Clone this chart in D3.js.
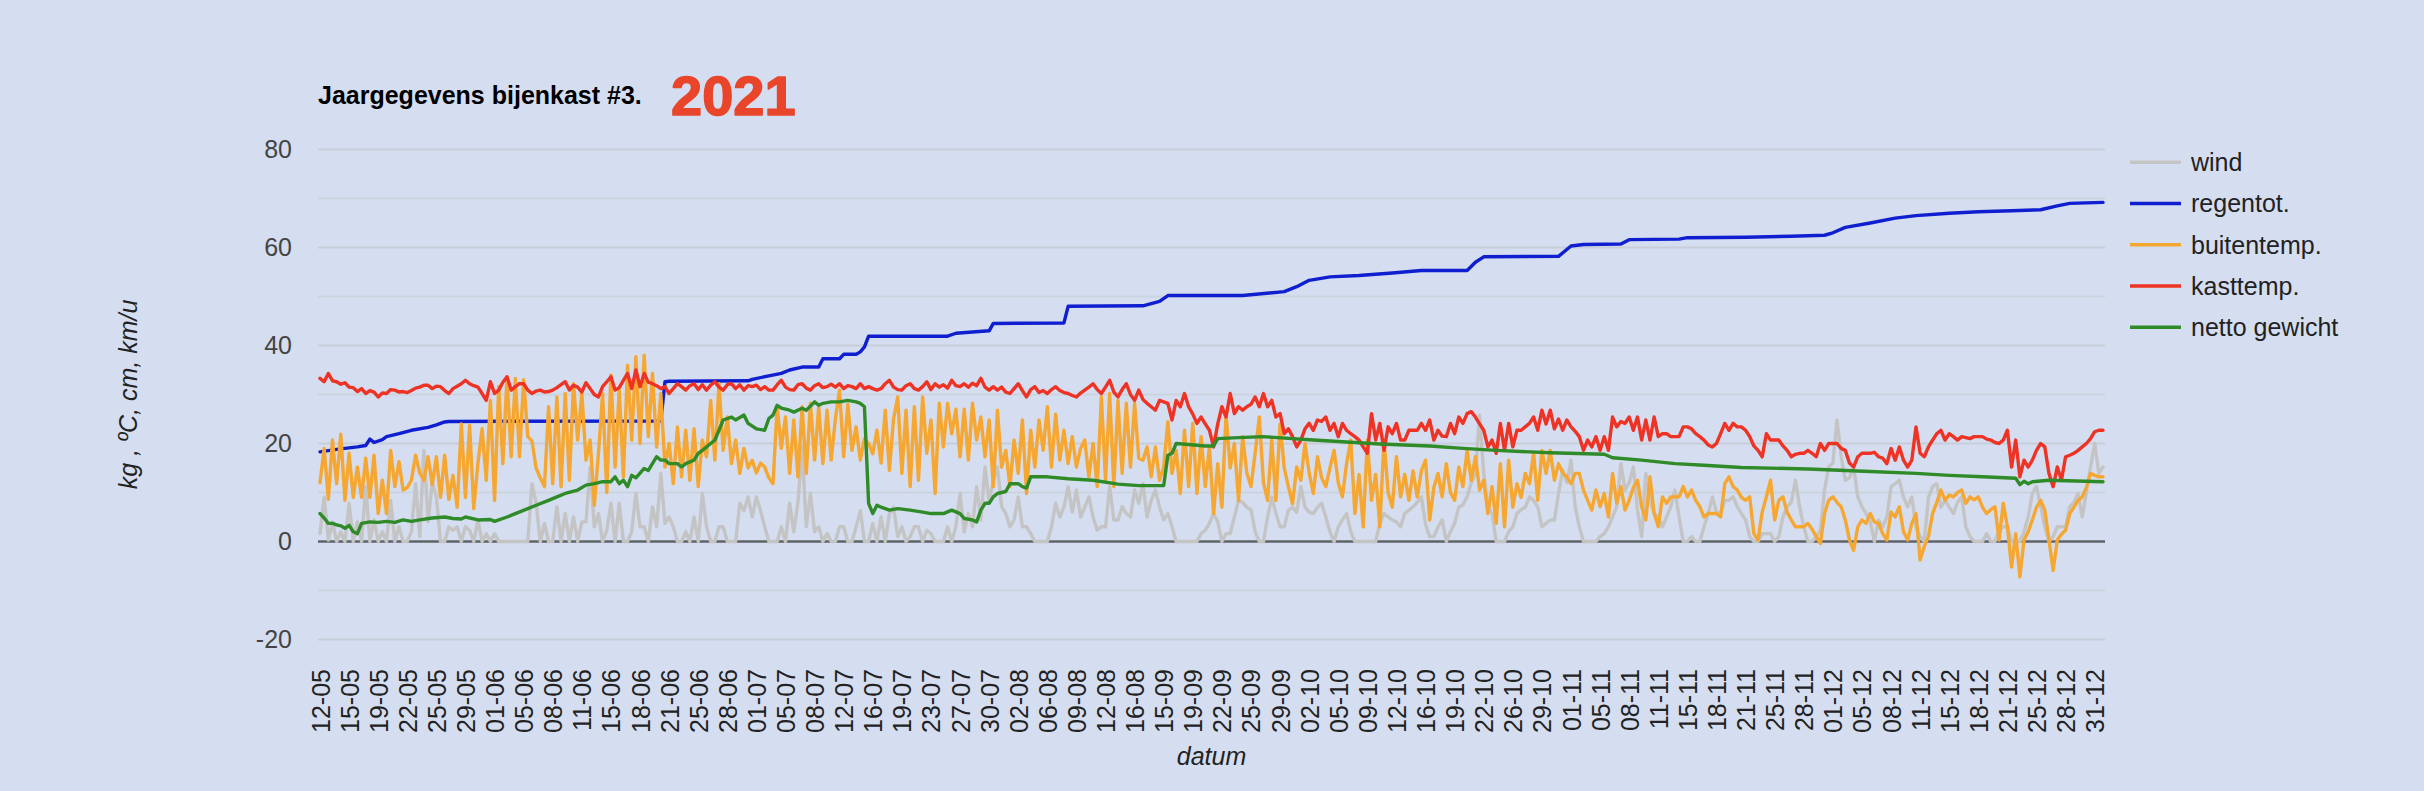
<!DOCTYPE html>
<html>
<head>
<meta charset="utf-8">
<script src="https://cdn.jsdelivr.net/npm/d3@7"></script>
<style>
  html, body { margin: 0; padding: 0; background: #d5def0; }
  svg { display: block; }
  text { font-family: "Liberation Sans", Arial, sans-serif; }
</style>
</head>
<body>
<svg id="chart" width="2424" height="791"></svg>
<script>
// ---------------- DATA ----------------
const seriesNames = ["wind", "regentot.", "buitentemp.", "kasttemp.", "netto gewicht"];
const seriesColors = ["#c4c4c4", "#0f1fcf", "#f5a731", "#ee3224", "#2f8a28"];

const tickLabels = ["12-05","15-05","19-05","22-05","25-05","29-05","01-06","05-06","08-06","11-06","15-06","18-06","21-06","25-06","28-06","01-07","05-07","08-07","12-07","16-07","19-07","23-07","27-07","30-07","02-08","06-08","09-08","12-08","16-08","15-09","19-09","22-09","25-09","29-09","02-10","05-10","09-10","12-10","16-10","19-10","22-10","26-10","29-10","01-11","05-11","08-11","11-11","15-11","18-11","21-11","25-11","28-11","01-12","05-12","08-12","11-12","15-12","18-12","21-12","25-12","28-12","31-12"];
const yTicks = [-20, 0, 20, 40, 60, 80];

const wind = [
1.6,9.1,0.3,4,0,2,0,7.8,0,4, 0,11.2,0,4.4,0,2,0,8.4,0,3, 0,0,2,11.8,1,18.6,4,12,9.1,0,
0,3,2.3,3,0,3,2.3,0,4.4,0, 1.6,0,1.6,0,0,0,0,0,0,0, 0,11.8,7.8,0,3.7,0,0,7.1,0,5.7,
0,5,0,4,4,15.2,3,5.7,0,2.3, 7.8,0,7.8,0,0,2,9.8,3,3,0, 7.1,3,13.9,3.7,5,3,0,0,2,0,
5,0,9.8,3,0,0,3,3,0,0, 0,7.8,6.3,9.1,5,9.1,6.3,3,0,0, 0,3,0,7.8,2,8,19.3,3,9.8,2,
3,0,1.6,0,0,3,3,0,0,3, 6.3,0,0,3.7,0,5,0,5.7,7,1, 3,0,1,3,3,0,2.3,1.6,0,0,
0,3,0,3,9.8,2,5.7,3,11.2,4.4, 15.2,8,12.5,15.2,7.1,5.7,3,4.4,9.1,3, 3,1.6,0,0,0,0,3,7.8,5,7,
11.2,6,10.5,5,7,9.1,5,2.3,3,3, 11.2,4.4,4.4,7.1,5.7,5,10.5,7.8,11.8,5, 8.4,10.5,7,4.4,5.7,3,0,0,0,0,
0,0,1.6,2.3,3.7,5.7,4,0,1.6,1.6, 5,8.4,8,7,6.5,2,0,0,5,9.1, 5.7,3,3,6.4,7,6,11.2,7,6,5.7,
7,7.8,5,2,0,3,4.4,5.7,2,0, 0,0,0,0,0,3.7,5.7,5,4.4,4, 3,5.7,6.4,7.1,8,9.1,3.5,1,1,3,
4.4,0,2,3.7,7,7.5,9.1,12,13.9,25.8, 13.9,7,5.7,0,0,0,2,3,5.7,6.5, 7,9.1,8.4,7,3,3.7,4.4,4.4,9.8,14.6,
12,16.6,7.1,3,0,0,0,0,1,1.6, 3,5,7.1,15.9,10.5,12,15.2,6.4,1,13.9, 8.4,5.7,5,3,5,7.1,10.5,5,0,0,
1,0,0,3,5.7,9.1,6,5.7,8.4,8.4, 9.1,7.1,5.7,4.4,1,0,0,1.6,1.6,1.6, 0,1,5,7.1,8,12.5,7.1,3,0,0,
1,2.3,10.5,15.2,16,24.8,17.3,12.5,13,15.2, 9.1,7.1,5.7,4,0,4.4,3,5,11.2,11.8, 12.5,9,7.1,9.1,3,1,0,9,11.2,11.8,
7,8.4,7,5.7,8,9.1,3,1,0,0, 0,1.6,0,0,2.3,3,3,0,0,0, 2,5,9.8,11.2,7.1,3,0,1,3,3,
3,7.1,8,9.8,5,10,15.2,20,13.9,15.2
];

const buitentemp = [
12,19,8.6,20.7,11.8,21.9,8.4,18,9,15.2, 9,17,9,17.6,5.7,12.5,5.7,18.6,11.2,16.3, 10.5,11,12.5,17.6,14,12.5,17.3,11.6,17.3,9,
17.6,8.6,13.5,7,24,9,23.7,6.7,16,23, 12.5,28.8,8.4,31.6,15.9,33.6,17.3,33.3,17.3,33, 21.4,20.5,15,13,11.2,27.5,11.8,29.5,11.2,30.2,
12.5,32.2,20.7,30.2,16.6,20.7,7.4,18,30.2,10, 34,15.2,30.9,13.2,36,20.7,37.7,20,38,21.4, 34.3,19.3,30.2,15.2,20,11.8,23.4,13.2,22.7,12.5,
23,11.2,20.7,17.3,28.8,16.6,32.2,18.6,25.4,15.9, 20.7,13.9,19,15,16.6,14,16,15.2,13,11.8, 27.5,19,25.4,13.9,24.8,13.2,27.5,13.9,28.2,16.6,
27.5,15.9,26.8,16.6,25,30.9,17.3,28,18.6,23.4, 16.6,21,20,17.9,22.7,16,26.8,14.5,25,29.5, 13.9,26.8,11.2,27.5,12.5,29.5,18,24.8,9.8,28.2,
19.3,28.2,22,27,17.3,27,16.6,28.2,20.7,25.4, 17.3,24.8,11.2,26.8,15.2,18.6,11.2,20.7,13.9,24.8, 9.8,22.7,15.2,24.8,18.6,27.5,15.2,26,16.6,22.7,
15.9,21.4,15.2,19,20.7,13.2,20,11.2,29.5,12.5, 30.2,11.2,28.8,13.9,28.2,15.2,28.2,17,16.6,19.3, 13.2,19.3,12.5,15.2,24.4,13.9,18.6,9.8,22.7,11.2,
24.1,9.8,21.4,11.2,19.3,5.7,15.9,7,26,15, 20,8.4,21.4,14,11.2,18,25.4,12,8.4,20.7, 8.4,24,15,11.2,7.7,15.2,12.5,20,14,9.8,
17.3,13,11.2,15,18.6,12,9.1,15.9,20.7,5.7, 13.7,3,20.7,8.4,13.7,3,20.7,10,7,17.3, 9.1,13.7,8.4,14.4,9.1,14.4,16.6,4.4,11,13.9,
9.1,15.9,10,8.4,15.2,11.2,18.6,12.5,17.3,10.5, 12.5,5.7,11.2,3.7,15.9,3,16.6,7,11.8,9, 13.9,11.8,18,8.4,18.6,13.9,18.6,12.5,15.9,14,
13.2,11.8,13.9,13.9,10.5,8.4,6.4,10.5,7.1,9.8, 5,13.9,7.8,11.2,6.4,8.4,11,12.5,7.1,4.4, 13.2,5.7,3,9.1,7.8,9.1,9.1,9.1,11.2,9.1,
10.5,8.4,7.1,5,5.7,5.7,5.7,5,11.8,13.2, 11.2,10.5,9,8.4,9.1,1.6,0.3,6,9.1,12.5, 4.4,8.4,9.1,6,4.4,3,3,3,3.7,2.5,
1,-0.4,5.7,8.4,9.1,8,7.1,4.4,0.3,-1.8, 3,4.4,3.7,5.7,4,3.7,1.6,0.3,6,5, 7.1,2,0.3,3.7,5.7,-3.8,-1,1,5.7,8,
10.5,8.4,9.5,9.1,10,10.5,7.8,9.1,8.5,9.1, 7,5.7,6.5,7.1,0.3,7.8,3,-5.2,1.6,-7.2, 0.3,2,4.4,7,8.4,6.4,0.3,-5.9,0.3,1.5,
2.3,5.7,7,8.4,9.1,11,13.9,13.5,13.2,13.2
];

const kasttemp = [
33.3,32.6,34.3,32.8,32.6,32.1,32.4,31.5,31.4,30.6, 31.2,30.2,30.8,30.5,29.5,30.3,30.2,31,30.9,30.5, 30.6,30.4,30.8,31.3,31.5,31.9,31.9,31.2,31.7,31.6,
30.8,30.2,31.2,31.7,32.2,32.9,32.2,31.8,31.5,30.2, 28.8,32.6,30.2,30.9,32.5,33.6,30.9,31.6,32.2,32.2, 30.9,30.2,30.7,30.9,30.5,30.6,30.9,31.4,32,32.6,
30.9,31.9,31.5,30.5,32.4,31.2,30,29.5,31.6,32.6, 33.6,30.9,31.4,32.9,34.3,31.2,35,31.6,34.3,32.5, 32.2,31.8,31.2,31.6,30.2,31.2,32.2,31.6,30.9,31.8,
32.2,31,32,30.9,31.9,32.6,31.5,30.9,32,32.2, 31.2,32,30.9,31.8,31.6,31.9,31,31.6,30.9,30.9, 32,32.9,31.5,31,30.9,32,32.2,31.3,30.9,31.8,
32.2,31.4,31.6,32.1,31.5,32.2,31.2,31.8,31.6,31.2, 32.2,31.2,31.6,31.2,30.9,31.2,32.2,32.9,31.5,31, 30.9,31.8,32.2,31.2,30.9,31.6,32.6,31,32.2,31.5,
32,31.3,32.9,31.8,31.6,32.2,31.5,32.3,31.8,33.3, 31.5,30.9,31.6,30.9,31.5,30.5,30.2,31.2,32.2,30.8, 29.5,31,31.6,30.4,30.8,30.2,31,31.6,30.8,30.4,
30.2,29.8,29.5,30.3,30.9,31.5,32.2,31,30.2,31.5, 32.9,30.5,29.5,31,32.2,30,28.8,30.9,29,28.2, 27.5,26.8,28.8,28.5,28.2,24.8,28.8,27.5,30.2,27.5,
26,24.1,25.4,24,22.7,19.3,24,27.5,25.4,30.2, 26.1,27.5,26.8,27.5,28,29.5,27.5,30.2,27.5,28.8, 25.4,26.1,22,23,21.4,19.3,20.7,23,24.1,22.7,
24.8,24.5,25.4,22.7,24.1,21.4,24.1,22.7,22,21.4, 20.7,19.3,18,26.1,20.7,24.1,18.6,23.4,22,24.1, 20.7,20.7,22.7,22.7,22.7,24.1,22.7,24.8,20.7,22.7,
21.5,21.4,24.1,22,25.4,24.1,26.1,26.5,25.4,24, 22.7,19.3,20.7,18,24.1,18.6,24.1,19.3,22.7,22.7, 23.4,24.1,25.4,22.7,26.8,24,26.8,23,25,22.7,
24.8,23.4,22.5,21.4,18.6,20.7,19.3,21.4,18.6,21.4, 18.6,25.4,23.4,24.5,24.1,25.4,22.7,25.4,20.7,24.8, 20.7,25.4,21.4,22,22,21.4,21.4,21.4,23.4,23.4,
23,22,21.4,20.7,19.7,19.3,20,22,24.1,22.7, 24.1,23.4,23.4,22.7,21.4,19.5,18.6,17.3,22,20.7, 20.7,20.7,19.5,18.6,17.3,17.8,18,18,18.6,18,
17.3,20,18.6,20,20,20,19,18.6,16,15.2, 17.3,18,18,18,18.2,17.3,17,15.9,19,16.6, 19.3,16.6,15.2,16.6,23.4,18,17.3,19.3,20.7,22,
22.7,20.7,22,21.4,20.7,21.4,21.2,21,21.4,21.4, 21.4,20.9,20.7,20.2,20,20.7,22.7,15.2,20.7,13.2, 16.6,15.2,16.6,18.6,20,19.3,13.9,11.2,15.2,12.5,
17.3,17.6,18,18.6,19.3,20,21,22.4,22.7,22.7
];

// reading index / value pairs where the line changes
const regentot = [
[0,18.3],[4,18.8],[9,19.3],[11,19.6],[12,20.9],[13,20.2],[15,20.8],[16,21.4],[19,22.0],[22,22.7],[26,23.3],[28,23.8],[30,24.4],[31,24.5],
[82,24.6],[83,32.6],[84,32.7],[103,32.8],[104,33.1],[108,33.8],[111,34.3],[113,35.0],[116,35.6],[120,35.6],[121,37.3],[125,37.3],[126,38.2],
[129,38.2],[130,38.7],[131,39.7],[132,41.9],[151,41.9],[153,42.5],[161,43],[162,44.5],[179,44.6],[180,48],[198,48.1],[202,49],[204,50.2],
[222,50.2],[232,51],[235,52],[238,53.3],[243,54],[250,54.3],[258,54.8],[265,55.3],[276,55.3],[278,57],[280,58.1],[298,58.2],[301,60.3],
[304,60.6],[313,60.7],[315,61.6],[327,61.7],[329,62],[343,62.1],[354,62.3],[362,62.5],[364,63],[367,64.1],[373,65],[379,66],[384,66.5],
[392,67],[399,67.3],[407,67.5],[414,67.7],[418,68.5],[421,69],[429,69.2]
];

const nettoGewicht = [
[0,5.7],[1,4.8],[2,3.7],[3,3.7],[4,3.4],[5,3.2],[6,2.7],[7,3.3],[8,2],[9,1.6],[10,3.7],[12,4],[14,3.9],[16,4.1],[18,3.9],[20,4.4],[22,4.1],
[24,4.4],[27,4.8],[30,5.0],[32,4.7],[34,4.6],[35,5.0],[38,4.4],[41,4.5],[42,4.1],[45,5.0],[47,5.7],[50,6.7],[52,7.4],[55,8.4],[57,9.1],
[59,9.8],[62,10.5],[64,11.5],[66,11.8],[68,12.2],[70,12.2],[71,13.2],[72,11.8],[73,12.5],[74,11.2],[75,13.5],[76,13],[78,14.9],[79,14.5],
[81,17.3],[82,16.6],[83,16.6],[84,15.9],[86,15.9],[87,15.2],[88,15.9],[90,16.6],[91,18],[92,18.6],[94,20],[95,20.7],[96,22.7],[97,24.8],
[99,25.4],[100,24.8],[102,25.8],[103,24.1],[105,23],[107,22.7],[108,25.1],[109,25.8],[110,27.8],[111,27.2],[113,26.8],[114,26.4],[116,27.2],
[117,26.8],[119,28.5],[120,27.8],[121,28.2],[123,28.5],[125,28.5],[127,28.8],[129,28.5],[130,28.2],[131,27.5],[132,7.8],[133,5.7],[134,7.4],
[135,7],[137,6.4],[139,6.7],[142,6.4],[145,6],[147,5.7],[150,5.7],[152,6.4],[154,5.7],[155,4.7],[157,4.4],[158,4],[159,6.4],[160,7.8],
[161,7.8],[162,9.1],[163,9.8],[165,10.2],[166,11.8],[168,11.8],[169,11.2],[170,10.9],[171,13.2],[175,13.2],[180,12.8],[186,12.5],[192,11.7],
[197,11.4],[203,11.4],[204,17.6],[205,18],[206,20],[209,19.8],[213,19.5],[215,19.5],[216,21],[221,21.2],[227,21.4],[239,20.7],[255,19.9],
[267,19.5],[275,19],[283,18.6],[296,18.1],[309,17.8],[311,17.1],[318,16.6],[326,15.9],[334,15.5],[342,15.1],[358,14.8],[370,14.4],
[384,13.9],[392,13.5],[400,13.2],[408,12.9],[409,11.6],[410,12.3],[411,11.8],[412,12.2],[416,12.5],[429,12.2]
];

// ---------------- CHART ----------------
const N = buitentemp.length;
const svg = d3.select("#chart");
svg.append("rect").attr("width", 2424).attr("height", 791).attr("fill", "#d5def0");

const plotL = 318, plotR = 2105;
const x = d3.scalePoint().domain(d3.range(N)).range([320, 2103]);
const y = d3.scaleLinear().domain([-20, 80]).range([639.5, 149.5]);

// gridlines
svg.append("g").selectAll("line")
  .data(d3.range(-20, 81, 10).filter(v => v !== 0))
  .join("line")
  .attr("x1", plotL).attr("x2", plotR)
  .attr("y1", d => y(d)).attr("y2", d => y(d))
  .attr("stroke", d => d % 20 === 0 ? "#c8ced9" : "#ccd3df")
  .attr("stroke-width", 2);

// baseline 0
svg.append("line")
  .attr("x1", plotL).attr("x2", plotR)
  .attr("y1", y(0)).attr("y2", y(0))
  .attr("stroke", "#5f6368").attr("stroke-width", 2.5);

// y axis labels
const yAxis = svg.append("g")
  .attr("transform", `translate(${plotL},0)`)
  .call(d3.axisLeft(y).tickValues(yTicks).tickSize(0).tickPadding(26).tickFormat(d => String(d)));
yAxis.select(".domain").remove();
yAxis.selectAll("text")
  .attr("font-size", 25).attr("fill", "#444").attr("font-family", "'Liberation Sans', Arial, sans-serif");

// x axis labels
const tickIdx = tickLabels.map((_, k) => k * 7);
const xAxis = svg.append("g")
  .attr("transform", "translate(0,669)")
  .call(d3.axisBottom(x).tickValues(tickIdx).tickSize(0).tickFormat((d, k) => tickLabels[k]));
xAxis.select(".domain").remove();
xAxis.selectAll("text")
  .attr("y", 0).attr("dy", 0).attr("x", 0)
  .attr("text-anchor", "end")
  .attr("transform", "translate(9,0) rotate(-90)")
  .attr("font-size", 25).attr("fill", "#222").attr("font-family", "'Liberation Sans', Arial, sans-serif");

// series
const lineIdx = d3.line().x((d, i) => x(i)).y(d => y(d));
const linePts = d3.line().x(d => x(d[0])).y(d => y(d[1]));
const g = svg.append("g").attr("fill", "none").attr("stroke-linejoin", "round").attr("stroke-linecap", "round");
g.append("path").attr("d", lineIdx(wind)).attr("stroke", seriesColors[0]).attr("stroke-width", 3.4);
g.append("path").attr("d", linePts(regentot)).attr("stroke", seriesColors[1]).attr("stroke-width", 3.4);
g.append("path").attr("d", lineIdx(buitentemp)).attr("stroke", seriesColors[2]).attr("stroke-width", 3.4);
g.append("path").attr("d", lineIdx(kasttemp)).attr("stroke", seriesColors[3]).attr("stroke-width", 3.4);
g.append("path").attr("d", linePts(nettoGewicht)).attr("stroke", seriesColors[4]).attr("stroke-width", 3.4);

// titles
svg.append("text").attr("x", 318).attr("y", 104)
  .attr("font-size", 25).attr("font-weight", "bold").attr("fill", "#000")
  .text("Jaargegevens bijenkast #3.");
svg.append("text").attr("x", 671).attr("y", 115)
  .attr("font-size", 56).attr("font-weight", "bold").attr("fill", "#e9452b")
  .attr("stroke", "#e9452b").attr("stroke-width", 1.5).attr("stroke-linejoin", "round")
  .text("2021");

svg.append("text")
  .attr("transform", `translate(137,${(y(80) + y(-20)) / 2}) rotate(-90)`)
  .attr("text-anchor", "middle").attr("font-size", 25).attr("font-style", "italic").attr("fill", "#222")
  .text("kg , ºC, cm, km/u");
svg.append("text")
  .attr("x", (plotL + plotR) / 2).attr("y", 765)
  .attr("text-anchor", "middle").attr("font-size", 25).attr("font-style", "italic").attr("fill", "#222")
  .text("datum");

// legend
const leg = svg.append("g").selectAll("g").data(seriesNames).join("g")
  .attr("transform", (d, i) => `translate(2130,${162.3 + i * 41.25})`);
leg.append("line").attr("x1", 0).attr("x2", 51).attr("stroke", (d, i) => seriesColors[i]).attr("stroke-width", 3.5);
leg.append("text").attr("x", 61).attr("dy", "0.35em").attr("font-size", 25).attr("fill", "#222").text(d => d);
</script>
</body>
</html>
